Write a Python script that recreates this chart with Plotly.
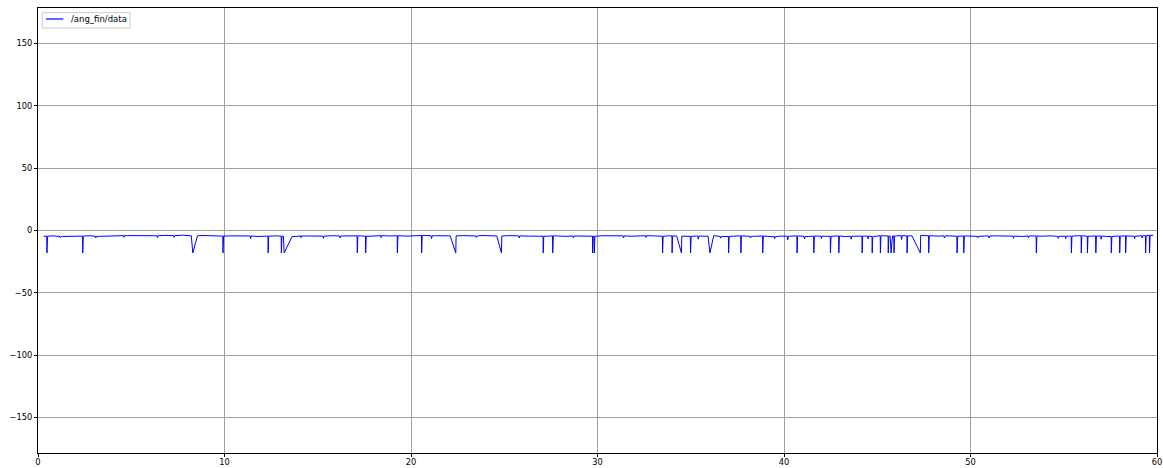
import numpy as np
import plotly.graph_objects as go

# Resting level of /ang_fin/data, one reading every 0.5 s starting at t = 0.3 s
baseline_t0 = 0.3
baseline_step = 0.5
baseline_vals = [
    -4.6, -4.3, -4.8, -4.4, -4.5, -4.2, -4.7, -4.4, -4.5, -4.1,
    -4.0, -3.8, -4.2, -3.9, -4.1, -3.8, -4.3, -4.0, -4.2, -4.5,
    -4.3, -4.6, -4.4, -4.8, -4.5, -4.3, -4.6, -5.0, -4.4, -4.7,
    -4.5, -4.2, -4.4, -4.0, -4.3, -4.6, -4.1, -4.4, -4.2, -4.5,
    -4.3, -4.0, -4.2, -3.9, -4.3, -4.1, -4.4, -4.0, -4.2, -4.4,
    -4.1, -4.3, -4.5, -4.2, -4.6, -4.3, -4.7, -4.4, -4.3, -4.6,
    -4.2, -4.5, -4.3, -4.6, -4.4, -4.2, -4.6, -4.3, -4.5, -4.7,
    -4.4, -4.6, -4.2, -4.8, -4.5, -4.3, -4.7, -4.4, -4.9, -4.5,
    -4.6, -4.3, -4.8, -4.5, -4.7, -4.4, -4.9, -4.6, -4.5, -4.8,
    -4.2, -4.4, -4.1, -4.3, -4.0, -4.2, -4.5, -4.3, -4.6, -4.4,
    -4.7, -4.4, -4.3, -4.6, -4.5, -4.8, -4.4, -4.6, -4.3, -4.7,
    -4.5, -4.2, -4.6, -4.4, -4.8, -4.5, -4.3, -4.6, -4.2, -3.8,
]

# Sharp drops: time of the drop (s) and the value reached
drop_t = [0.48, 2.40, 9.92, 12.34, 13.05, 17.12, 17.57, 19.27, 20.57,
          27.09, 27.60, 29.74, 29.83, 33.49, 34.00, 34.99, 37.03, 37.69,
          38.86, 40.70, 41.60, 42.49, 42.94, 44.19, 44.73, 45.17, 45.59,
          45.90, 46.60, 47.76, 49.28, 49.64, 53.53, 55.41, 55.94, 56.27,
          56.72, 57.55, 58.00, 58.32, 59.39, 59.60]
drop_val = [-18.0] * len(drop_t)

# Slower excursions: bottom time, value, descent time and recovery time (s)
ramp_t = [8.30, 13.20, 22.40, 24.85, 34.50, 36.03, 45.74, 47.31]
ramp_val = [-18.0, -18.0, -18.0, -18.0, -18.0, -18.0, -18.0, -18.0]
ramp_in = [0.08, 0.04, 0.30, 0.25, 0.25, 0.10, 0.05, 0.45]
ramp_out = [0.25, 0.42, 0.00, 0.00, 0.00, 0.20, 0.08, 0.00]

# Small dips and bumps in the resting level
dip_t = [1.20, 3.10, 4.60, 6.40, 7.30, 11.40, 14.10, 15.30, 16.20, 18.40,
         21.10, 23.50, 25.80, 28.70, 31.40, 32.60, 35.40, 36.60, 38.20,
         39.50, 40.20, 41.10, 42.00, 43.60, 44.50, 46.30, 48.60, 50.40,
         51.00, 52.30, 53.10, 54.70, 55.10, 57.00, 58.80, 59.20]
dip_val = [-5.8, -6.0, -5.5, -5.8, -5.6, -6.5, -5.7, -6.2, -6.0, -5.8,
           -6.4, -5.6, -6.0, -5.8, -5.9, -5.6, -7.0, -6.2, -6.0,
           -6.5, -7.5, -6.8, -6.4, -7.0, -6.8, -7.2, -6.0, -5.7,
           -6.0, -6.2, -5.8, -6.3, -6.6, -7.0, -6.5, -6.0]


def level_at(t):
    i = int(round((t - baseline_t0) / baseline_step))
    i = min(max(i, 0), len(baseline_vals) - 1)
    return baseline_vals[i]


# Each event: list of (t, y) vertices, and the time span it occupies
events = []
for t, v in zip(drop_t, drop_val):
    events.append(((t - 0.01, t + 0.03),
                   [(t - 0.01, level_at(t)), (t, v), (t + 0.03, level_at(t))]))
for t, v, a, b in zip(ramp_t, ramp_val, ramp_in, ramp_out):
    s0, s1 = t - max(a, 0.01), t + max(b, 0.02)
    events.append(((s0, s1), [(s0, level_at(s0)), (t, v), (s1, level_at(s1))]))
for t, v in zip(dip_t, dip_val):
    events.append(((t - 0.02, t + 0.04),
                   [(t - 0.02, level_at(t)), (t, v), (t + 0.04, level_at(t))]))

pts = []
for i, v in enumerate(baseline_vals):
    t = baseline_t0 + i * baseline_step
    if any(s0 - 0.03 <= t <= s1 + 0.03 for (s0, s1), _ in events):
        continue
    pts.append((t, v))
for _, verts in events:
    pts.extend(verts)
pts.sort(key=lambda p: p[0])
xs = [p[0] for p in pts]
ys = [p[1] for p in pts]

FONT = "DejaVu Sans"
fig = go.Figure()
fig.add_trace(go.Scatter(x=xs, y=ys, mode="lines",
                         line=dict(color="#0000ff", width=1),
                         name="/ang_fin/data", showlegend=False))

axis_common = dict(showline=True, linecolor="black", linewidth=1, mirror=True,
                   ticks="outside", ticklen=3, tickcolor="black",
                   showgrid=True, gridcolor="#a0a0a0", gridwidth=1,
                   zeroline=False, automargin=False,
                   tickfont=dict(family=FONT, size=8.3, color="black"))
fig.update_xaxes(range=[0, 60], tickvals=[0, 10, 20, 30, 40, 50, 60],
                 ticklabelstandoff=-2, **axis_common)
fig.update_yaxes(range=[-178.5, 178.5], tickvals=[-150, -100, -50, 0, 50, 100, 150],
                 ticktext=["\u2212150", "\u2212100", "\u221250", "0", "50", "100", "150"],
                 **axis_common)

# Legend box in the upper-left corner
fig.add_shape(type="rect", xref="paper", yref="paper",
              x0=4.3 / 1119, x1=92 / 1119, y0=1 - 20 / 445, y1=1 - 4.7 / 445,
              line=dict(color="#cccccc", width=1), fillcolor="rgba(255,255,255,0.8)")
fig.add_shape(type="line", xref="paper", yref="paper",
              x0=8 / 1119, x1=25.3 / 1119, y0=1 - 11 / 445, y1=1 - 11 / 445,
              line=dict(color="#0000ff", width=1.2))
fig.add_annotation(xref="paper", yref="paper", x=31.3 / 1119, y=1 - 11.5 / 445,
                   text="/ang_fin/data", showarrow=False, xanchor="left", yanchor="middle",
                   font=dict(family=FONT, size=8.5, color="black"))

fig.update_layout(width=1163, height=468,
                  margin=dict(l=38, r=6, t=8, b=15),
                  paper_bgcolor="white", plot_bgcolor="white",
                  font=dict(family=FONT, size=8.3, color="black"))

fig.write_html("out.html")
